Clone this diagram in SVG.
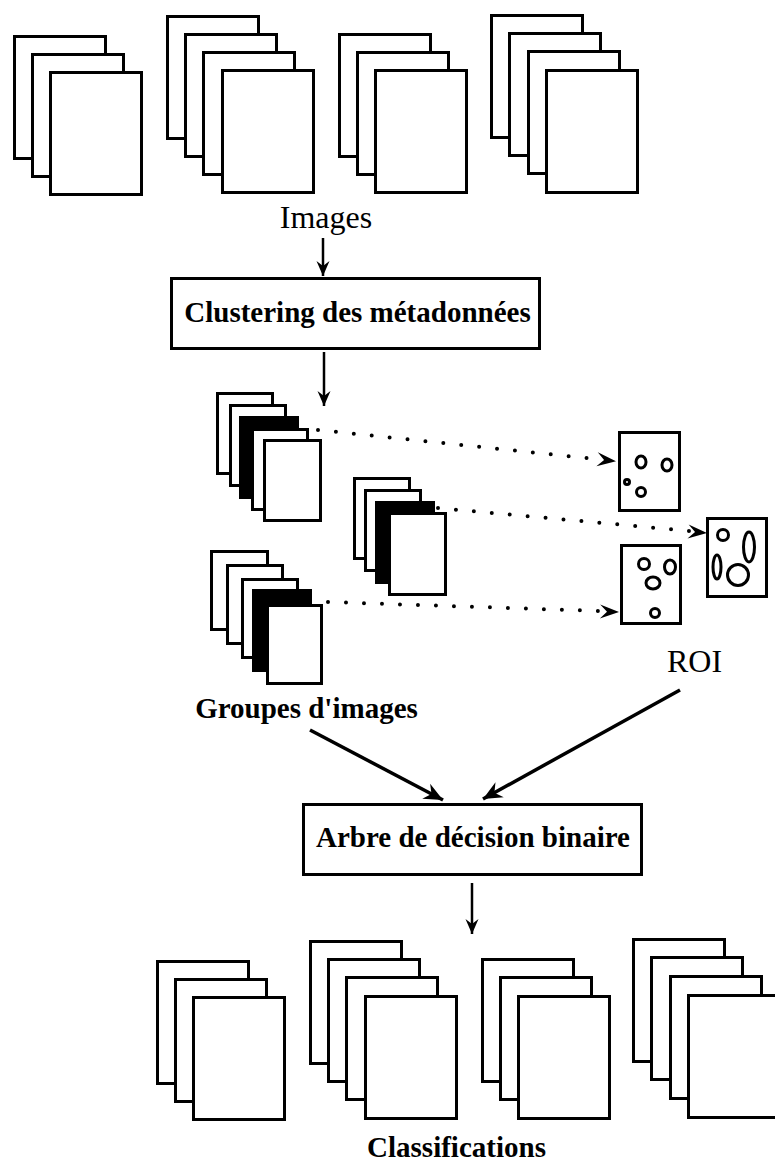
<svg xmlns="http://www.w3.org/2000/svg" width="775" height="1164" viewBox="0 0 775 1164">
<style>
.pg{fill:#fff;stroke:#000;stroke-width:3}
.pb{fill:#000;stroke:#000;stroke-width:3}
.roi{fill:#fff;stroke:#000;stroke-width:3}
.blob{fill:none;stroke:#000;stroke-width:3}
.box{fill:#fff;stroke:#000;stroke-width:3}
.lbl{font-family:"Liberation Serif","Times New Roman",serif;fill:#000;text-anchor:middle}
.b{font-weight:bold;font-size:29px}
.r{font-size:32px}
.arr{fill:none;stroke:#000;stroke-width:2.5}
.arrd{fill:none;stroke:#000;stroke-width:3.5}
.dot{fill:none;stroke:#000;stroke-width:4;stroke-linecap:round;stroke-dasharray:0 18}
</style>
<defs>
<marker id="ah" markerUnits="userSpaceOnUse" markerWidth="20" markerHeight="16" viewBox="-16 -8 18 16" refX="0" refY="0" orient="auto">
<path d="M0,0 L-15,-6.5 L-10,0 L-15,6.5 Z" fill="#000"/>
</marker>
<marker id="ahb" markerUnits="userSpaceOnUse" markerWidth="24" markerHeight="20" viewBox="-21 -10 23 20" refX="0" refY="0" orient="auto">
<path d="M0,0 L-19,-8.5 L-13,0 L-19,8.5 Z" fill="#000"/>
</marker>
<marker id="ahd" markerUnits="userSpaceOnUse" markerWidth="24" markerHeight="18" viewBox="-21 -9 23 18" refX="0" refY="0" orient="auto">
<path d="M0,0 L-19,-7 L-12,0 L-19,7 Z" fill="#000"/>
</marker>
</defs>

<g id="images-stack-1">
<rect class="pg" x="14.5" y="36.5" width="91" height="122"/>
<rect class="pg" x="32.5" y="54.5" width="91" height="122"/>
<rect class="pg" x="50.5" y="72.5" width="91" height="122"/>
</g>
<g id="images-stack-2">
<rect class="pg" x="167.5" y="16.5" width="91" height="122"/>
<rect class="pg" x="185.5" y="34.5" width="91" height="122"/>
<rect class="pg" x="203.5" y="52.5" width="91" height="122"/>
<rect class="pg" x="222.5" y="70.5" width="91" height="122"/>
</g>
<g id="images-stack-3">
<rect class="pg" x="339.5" y="34.5" width="91" height="122"/>
<rect class="pg" x="357.5" y="52.5" width="91" height="122"/>
<rect class="pg" x="375.5" y="70.5" width="91" height="122"/>
</g>
<g id="images-stack-4">
<rect class="pg" x="491.5" y="15.5" width="91" height="122"/>
<rect class="pg" x="509.5" y="33.5" width="91" height="122"/>
<rect class="pg" x="528.5" y="51.5" width="91" height="122"/>
<rect class="pg" x="546.5" y="70.5" width="91" height="122"/>
</g>
<g id="images-label"><text class="lbl r" x="326" y="228">Images</text></g>

<g id="clustering">
<rect class="box" x="171.5" y="278.5" width="368" height="70"/>
<text class="lbl b" x="357.5" y="322">Clustering des métadonnées</text>
</g>

<g id="group-a">
<rect class="pg" x="217.5" y="393.5" width="55" height="80"/>
<rect class="pg" x="230.5" y="405.5" width="55" height="80"/>
<rect class="pb" x="240.5" y="417.5" width="57" height="80"/>
<rect class="pg" x="252.5" y="429.5" width="55" height="80"/>
<rect class="pg" x="264.5" y="440.5" width="56" height="80"/>
</g>
<g id="group-b">
<rect class="pg" x="354.5" y="478.5" width="55" height="80"/>
<rect class="pg" x="365.5" y="490.5" width="55" height="80"/>
<rect class="pb" x="376.5" y="502.5" width="57" height="80"/>
<rect class="pg" x="389.5" y="513.5" width="56" height="81"/>
</g>
<g id="group-c">
<rect class="pg" x="211.5" y="551.5" width="56" height="78"/>
<rect class="pg" x="227.5" y="565.5" width="55" height="78"/>
<rect class="pg" x="242.5" y="579.5" width="55" height="78"/>
<rect class="pb" x="253.5" y="590.5" width="57" height="80"/>
<rect class="pg" x="267.5" y="605.5" width="54" height="78"/>
</g>
<g id="groups-label"><text class="lbl b" x="306.5" y="718">Groupes d'images</text></g>

<g id="roi-1">
<rect class="roi" x="619.5" y="432.5" width="60" height="78"/>
<ellipse class="blob" cx="641" cy="462" rx="5" ry="6"/>
<ellipse class="blob" cx="667" cy="465" rx="5" ry="6"/>
<circle class="blob" cx="627" cy="482" r="2.5"/>
<circle class="blob" cx="641" cy="492" r="4.5"/>
</g>
<g id="roi-2">
<rect class="roi" x="707.5" y="518.5" width="59" height="78"/>
<circle class="blob" cx="723" cy="535" r="5.5"/>
<ellipse class="blob" cx="749" cy="547" rx="5.5" ry="15"/>
<ellipse class="blob" cx="717" cy="567" rx="4" ry="12"/>
<circle class="blob" cx="738" cy="575" r="10.5"/>
</g>
<g id="roi-3">
<rect class="roi" x="621.5" y="545.5" width="59" height="78"/>
<ellipse class="blob" cx="644" cy="564" rx="5.5" ry="5.5"/>
<ellipse class="blob" cx="670" cy="567" rx="5.5" ry="7"/>
<ellipse class="blob" cx="653" cy="583" rx="7" ry="6"/>
<circle class="blob" cx="655" cy="613" r="4.5"/>
</g>
<g id="roi-label"><text class="lbl r" x="694.5" y="672">ROI</text></g>

<g id="arbre">
<rect class="box" x="303.5" y="804.5" width="338" height="70"/>
<text class="lbl b" x="473" y="847">Arbre de décision binaire</text>
</g>

<g id="class-stack-1">
<rect class="pg" x="157.5" y="961.5" width="91" height="122"/>
<rect class="pg" x="175.5" y="979.5" width="91" height="122"/>
<rect class="pg" x="193.5" y="997.5" width="91" height="122"/>
</g>
<g id="class-stack-2">
<rect class="pg" x="310.5" y="941.5" width="91" height="122"/>
<rect class="pg" x="328.5" y="959.5" width="91" height="122"/>
<rect class="pg" x="346.5" y="977.5" width="91" height="122"/>
<rect class="pg" x="365.5" y="996.5" width="91" height="122"/>
</g>
<g id="class-stack-3">
<rect class="pg" x="482.5" y="959.5" width="91" height="122"/>
<rect class="pg" x="500.5" y="977.5" width="91" height="122"/>
<rect class="pg" x="518.5" y="996.5" width="91" height="122"/>
</g>
<g id="class-stack-4">
<rect class="pg" x="633.5" y="939.5" width="91" height="122"/>
<rect class="pg" x="651.5" y="957.5" width="91" height="122"/>
<rect class="pg" x="670.5" y="976.5" width="91" height="122"/>
<rect class="pg" x="688.5" y="995.5" width="91" height="122"/>
</g>
<g id="classifications-label"><text class="lbl b" x="456.5" y="1157">Classifications</text></g>

<g id="connectors">
<line class="arr" x1="323" y1="238" x2="323" y2="276" marker-end="url(#ah)"/>
<line class="arr" x1="324" y1="352" x2="324" y2="406" marker-end="url(#ah)"/>
<line class="dot" x1="318" y1="430" x2="600" y2="459.5"/>
<line x1="600" y1="459.6" x2="616" y2="461.2" stroke="none" marker-end="url(#ahd)"/>
<line class="dot" x1="438" y1="508" x2="690" y2="531"/>
<line x1="690" y1="531.6" x2="707" y2="533" stroke="none" marker-end="url(#ahd)"/>
<line class="dot" x1="328" y1="602" x2="600" y2="611"/>
<line x1="600" y1="611.5" x2="619" y2="612" stroke="none" marker-end="url(#ahd)"/>
<line class="arrd" x1="310" y1="730" x2="443" y2="800" marker-end="url(#ahb)"/>
<line class="arrd" x1="680" y1="690" x2="483" y2="799" marker-end="url(#ahb)"/>
<line class="arr" x1="472" y1="883" x2="472" y2="934" marker-end="url(#ah)"/>
</g>
</svg>
